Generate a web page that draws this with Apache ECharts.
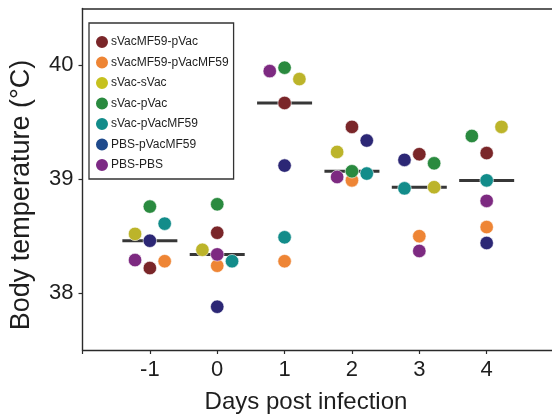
<!DOCTYPE html>
<html>
<head>
<meta charset="utf-8">
<script src="https://cdn.jsdelivr.net/npm/echarts@6/dist/echarts.min.js"></script>
<style>
    html, body { margin: 0; padding: 0; background: #fff; }
    #chart { width: 552px; height: 415px; }
</style>
</head>
<body>
<div id="chart"></div>
<script>
// Days on the x axis and the tick positions
const days = [-1, 0, 1, 2, 3, 4];
const xTicks = [-2, -1, 0, 1, 2, 3, 4];
const xLabels = [-1, 0, 1, 2, 3, 4];
const yTicks = [38, 39, 40];

// Group names and colours (points / legend swatches)
const groupNames = ['sVacMF59-pVac', 'sVacMF59-pVacMF59', 'sVac-sVac', 'sVac-pVac', 'sVac-pVacMF59', 'PBS-pVacMF59', 'PBS-PBS'];
const pointColors = ['#7a2629', '#ee8535', '#bcb42a', '#2a8a3f', '#128c8a', '#2c2775', '#7d2a81'];
const legendColors = ['#7a2629', '#ee8535', '#c6c11e', '#2a8a3f', '#128c8a', '#1f4a8c', '#7d2a85'];

// Body temperature per group, one value per day (-1 .. 4)
const sVacMF59pVac = [38.22, 38.53, 39.67, 39.46, 39.22, 39.23];
const sVacMF59pVacMF59 = [38.28, 38.24, 38.28, 38.99, 38.50, 38.58];
const sVacSVac = [38.52, 38.38, 39.88, 39.24, 38.93, 39.46];
const sVacPVac = [38.76, 38.78, 39.98, 39.07, 39.14, 39.38];
const sVacPVacMF59 = [38.61, 38.28, 38.49, 39.05, 38.92, 38.99];
const pbsPVacMF59 = [38.46, 37.88, 39.12, 39.34, 39.17, 38.44];
const pbsPbs = [38.29, 38.34, 39.95, 39.02, 38.37, 38.81];

// Side each dot sits on inside its day (-1 left, 0 centre, 1 right)
const sVacMF59pVacSide = [0, 0, 0, 0, 0, 0];
const sVacMF59pVacMF59Side = [1, 0, 0, 0, 0, 0];
const sVacSVacSide = [-1, -1, 1, -1, 1, 1];
const sVacPVacSide = [0, 0, 0, 0, 1, -1];
const sVacPVacMF59Side = [1, 1, 0, 1, -1, 0];
const pbsPVacMF59Side = [0, 0, 0, 1, -1, 0];
const pbsPbsSide = [-1, 0, -1, -1, 0, 0];

// Mean per day (black bars)
const dayMeans = [38.46, 38.34, 39.67, 39.07, 38.93, 38.99];

const groupValues = [sVacMF59pVac, sVacMF59pVacMF59, sVacSVac, sVacPVac, sVacPVacMF59, pbsPVacMF59, pbsPbs];
const groupSides = [sVacMF59pVacSide, sVacMF59pVacMF59Side, sVacSVacSide, sVacPVacSide, sVacPVacMF59Side, pbsPVacMF59Side, pbsPbsSide];

const FONT = '"Liberation Sans", Arial, sans-serif';
const TEXT = '#1e1e1e';
const LINE = '#2a2a2a';
const JITTER = 0.22;
const X_MIN = -2;
const X_MAX = 4.97;

const chart = echarts.init(document.querySelector('#chart'), null, { renderer: 'canvas' });

// Build one scatter series per group
const groupSeries = groupNames.map((name, g) => ({
    name: name,
    type: 'scatter',
    symbol: 'circle',
    symbolSize: 13.5,
    z: 3,
    itemStyle: { color: pointColors[g], borderColor: '#fff', borderWidth: 0.6, opacity: 1 },
    data: days.map((day, i) => [day + groupSides[g][i] * JITTER, groupValues[g][i]])
}));

const option = {
    animation: false,
    backgroundColor: '#fff',
    grid: {
        left: 82.5,
        top: 8.5,
        right: 0,
        bottom: 65
    },
    legend: {
        orient: 'vertical',
        left: 89,
        top: 23,
        icon: 'circle',
        itemWidth: 14,
        itemHeight: 14,
        itemGap: 4.5,
        padding: [11, 5, 6, 5],
        backgroundColor: '#fff',
        borderColor: '#333',
        borderWidth: 1.3,
        textStyle: { fontFamily: FONT, fontSize: 12, color: TEXT, padding: [0, 0, 0, -3] },
        data: groupNames.map((name, g) => ({ name: name, itemStyle: { color: legendColors[g] } }))
    },
    xAxis: [
        {
            type: 'value',
            min: X_MIN,
            max: X_MAX,
            splitLine: { show: false },
            axisLine: { show: true, onZero: false, lineStyle: { color: LINE, width: 1.4 } },
            axisTick: { show: true, length: 4, customValues: xTicks, lineStyle: { color: LINE, width: 1.2 } },
            axisLabel: { customValues: xLabels, margin: 9, fontFamily: FONT, fontSize: 22, color: TEXT }
        },
        {
            // top frame line only
            type: 'value',
            position: 'top',
            min: X_MIN,
            max: X_MAX,
            splitLine: { show: false },
            axisLine: { show: true, onZero: false, lineStyle: { color: LINE, width: 1.6 } },
            axisTick: { show: false },
            axisLabel: { show: false }
        }
    ],
    yAxis: {
        type: 'value',
        min: 37.5,
        max: 40.5,
        splitLine: { show: false },
        axisLine: { show: true, onZero: false, lineStyle: { color: LINE, width: 1.4 } },
        axisTick: { show: true, length: 4, customValues: yTicks, lineStyle: { color: LINE, width: 1.2 } },
        axisLabel: { customValues: yTicks, margin: 9, fontFamily: FONT, fontSize: 22, color: TEXT }
    },
    graphic: [
        {
            type: 'text',
            x: 22,
            y: 195,
            rotation: Math.PI / 2,
            style: { text: 'Body temperature (°C)', align: 'center', verticalAlign: 'middle', font: '27px ' + FONT, fill: TEXT }
        },
        {
            type: 'text',
            x: 306,
            y: 402,
            style: { text: 'Days post infection', align: 'center', verticalAlign: 'middle', font: '24px ' + FONT, fill: TEXT }
        }
    ],
    series: [
        {
            name: 'mean',
            type: 'scatter',
            symbol: 'rect',
            symbolSize: [55, 3],
            z: 2,
            silent: true,
            itemStyle: { color: '#050505' },
            data: days.map((day, i) => [day, dayMeans[i]])
        }
    ].concat(groupSeries)
};

chart.setOption(option);
</script>
</body>
</html>
